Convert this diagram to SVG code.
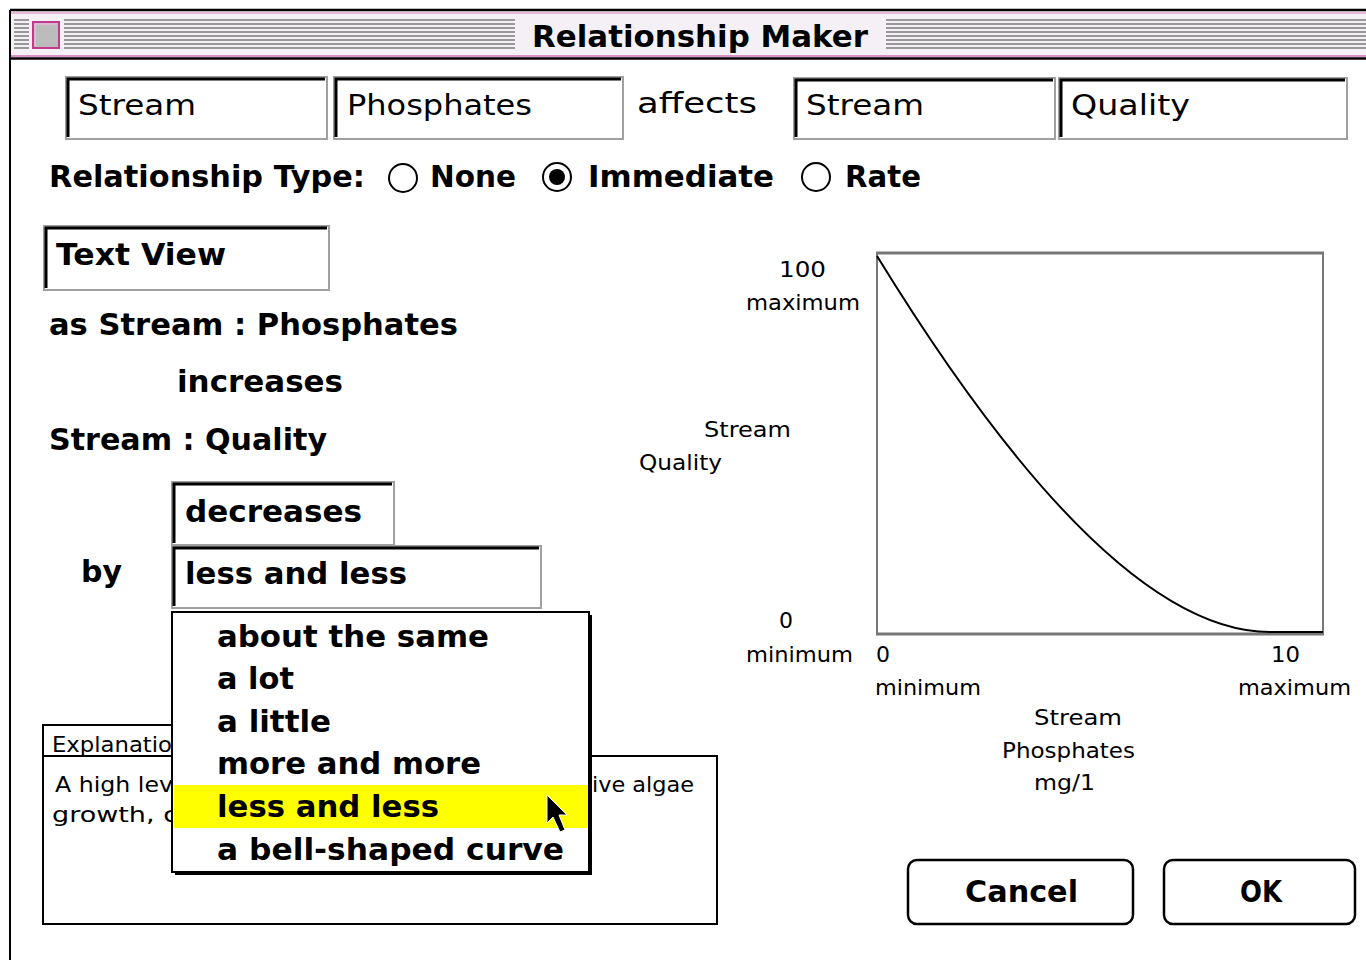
<svg xmlns="http://www.w3.org/2000/svg" width="1366" height="960" viewBox="0 0 1366 960">
<style>
.b{font-family:"DejaVu Sans","Liberation Sans",sans-serif;font-weight:bold;font-size:30px;fill:#000}
.p{font-family:"DejaVu Sans","Liberation Sans",sans-serif;font-size:28px;fill:#000}
.s{font-family:"DejaVu Sans","Liberation Sans",sans-serif;font-size:21px;fill:#000}
.fld{fill:#fff;stroke:#a0a0a0;stroke-width:2}
.ins{fill:none;stroke:#000;stroke-width:3}
.stripe{stroke:#999;stroke-width:2}
.radio{fill:#fff;stroke:#000;stroke-width:2}
.line{fill:none;stroke:#000;stroke-width:2}
.btn{fill:#fff;stroke:#000;stroke-width:2.5}
</style>
<rect x="0" y="0" width="1366" height="960" fill="#fff"/>
<g id="window">
  <rect x="10" y="10" width="1360" height="48" fill="#f5f0f5"/>
  <line x1="10" y1="10" x2="1366" y2="10" stroke="#000" stroke-width="2.5"/>
  <line x1="10" y1="13" x2="1366" y2="13" stroke="#e0a8d0" stroke-width="1.5"/>
  <line x1="10" y1="56" x2="1366" y2="56" stroke="#d070b0" stroke-width="1.5"/>
  <line x1="10" y1="58.5" x2="1366" y2="58.5" stroke="#000" stroke-width="2.5"/>
  <line x1="10" y1="10" x2="10" y2="960" stroke="#000" stroke-width="2"/>
  <g id="stripes">
    <path class="stripe" d="M14 20H29M14 24H29M14 28H29M14 32H29M14 36H29M14 40H29M14 44H29M14 48H29"/>
    <path class="stripe" d="M64 20H515M64 24H515M64 28H515M64 32H515M64 36H515M64 40H515M64 44H515M64 48H515"/>
    <path class="stripe" d="M886 20H1366M886 24H1366M886 28H1366M886 32H1366M886 36H1366M886 40H1366M886 44H1366M886 48H1366"/>
  </g>
  <g id="closebox">
    <rect x="33" y="22" width="26" height="26" fill="#bcbcbc" stroke="#c23a8c" stroke-width="2"/>
    <path d="M35 46V24H57" fill="none" stroke="#e8b8d8" stroke-width="1.5"/>
  </g>
  <text class="b" x="532" y="47" textLength="336" lengthAdjust="spacingAndGlyphs">Relationship Maker</text>
</g>
<g id="field-from-object">
  <rect class="fld" x="66" y="77" width="261" height="62"/>
  <path class="ins" d="M68 137V79H325"/>
  <text class="p" x="78" y="115" textLength="118" lengthAdjust="spacingAndGlyphs">Stream</text>
</g>
<g id="field-from-var">
  <rect class="fld" x="334" y="77" width="289" height="62"/>
  <path class="ins" d="M336 137V79H621"/>
  <text class="p" x="347" y="115" textLength="185" lengthAdjust="spacingAndGlyphs">Phosphates</text>
</g>
<text id="affects" class="p" x="637" y="113" textLength="120" lengthAdjust="spacingAndGlyphs">affects</text>
<g id="field-to-object">
  <rect class="fld" x="794" y="78" width="261" height="61"/>
  <path class="ins" d="M796 137V80H1053"/>
  <text class="p" x="806" y="115" textLength="118" lengthAdjust="spacingAndGlyphs">Stream</text>
</g>
<g id="field-to-var">
  <rect class="fld" x="1059" y="78" width="288" height="61"/>
  <path class="ins" d="M1061 137V80H1345"/>
  <text class="p" x="1071" y="115" textLength="119" lengthAdjust="spacingAndGlyphs">Quality</text>
</g>
<g id="relationship-type">
  <text class="b" x="49" y="187" textLength="316" lengthAdjust="spacingAndGlyphs">Relationship Type:</text>
  <circle class="radio" cx="403" cy="178" r="14"/>
  <text class="b" x="430" y="187" textLength="86" lengthAdjust="spacingAndGlyphs">None</text>
  <circle class="radio" cx="557" cy="177" r="14"/>
  <circle cx="557" cy="177" r="8" fill="#000"/>
  <text class="b" x="588" y="187" textLength="186" lengthAdjust="spacingAndGlyphs">Immediate</text>
  <circle class="radio" cx="816" cy="177" r="14"/>
  <text class="b" x="845" y="187" textLength="76" lengthAdjust="spacingAndGlyphs">Rate</text>
</g>
<g id="text-view">
  <rect class="fld" x="44" y="226" width="285" height="64"/>
  <path class="ins" d="M46 288V228H327"/>
  <text class="b" x="56" y="265" textLength="170" lengthAdjust="spacingAndGlyphs">Text View</text>
</g>
<g id="sentence">
  <text class="b" x="49" y="335" textLength="409" lengthAdjust="spacingAndGlyphs">as Stream : Phosphates</text>
  <text class="b" x="177" y="392" textLength="166" lengthAdjust="spacingAndGlyphs">increases</text>
  <text class="b" x="49" y="450" textLength="278" lengthAdjust="spacingAndGlyphs">Stream : Quality</text>
  <text class="b" x="81" y="582" textLength="41" lengthAdjust="spacingAndGlyphs">by</text>
</g>
<g id="direction-field">
  <rect class="fld" x="172" y="482" width="222" height="63"/>
  <path class="ins" d="M174 543V484H392"/>
  <text class="b" x="185" y="522" textLength="177" lengthAdjust="spacingAndGlyphs">decreases</text>
</g>
<g id="amount-field">
  <rect class="fld" x="172" y="546" width="369" height="62"/>
  <path class="ins" d="M174 606V548H539"/>
  <text class="b" x="185" y="584" textLength="222" lengthAdjust="spacingAndGlyphs">less and less</text>
</g>
<g id="explanation">
  <path class="line" d="M43 924V725H250"/>
  <rect x="43" y="756" width="674" height="168" class="line"/>
  <text class="s" x="52" y="752" textLength="120" lengthAdjust="spacingAndGlyphs">Explanatio</text>
  <text class="s" x="55" y="792" textLength="118" lengthAdjust="spacingAndGlyphs">A high lev</text>
  <text class="s" x="52" y="822" textLength="126" lengthAdjust="spacingAndGlyphs">growth, c</text>
  <text class="s" x="592" y="792" textLength="102" lengthAdjust="spacingAndGlyphs">ive algae</text>
</g>
<g id="menu">
  <rect x="175" y="615" width="417" height="260" fill="#000"/>
  <rect x="172" y="612" width="417" height="260" fill="#fff" stroke="#000" stroke-width="2"/>
  <rect x="174" y="785" width="414" height="43" fill="#ffff00"/>
  <text class="b" x="217" y="647" textLength="272" lengthAdjust="spacingAndGlyphs">about the same</text>
  <text class="b" x="217" y="689" textLength="77" lengthAdjust="spacingAndGlyphs">a lot</text>
  <text class="b" x="217" y="732" textLength="114" lengthAdjust="spacingAndGlyphs">a little</text>
  <text class="b" x="217" y="774" textLength="264" lengthAdjust="spacingAndGlyphs">more and more</text>
  <text class="b" x="217" y="817" textLength="222" lengthAdjust="spacingAndGlyphs">less and less</text>
  <text class="b" x="217" y="860" textLength="347" lengthAdjust="spacingAndGlyphs">a bell-shaped curve</text>
  <path d="M547 795V823L553 817L560 832L565 830L559 815H567Z" fill="#000" stroke="#fff" stroke-width="1"/>
</g>
<g id="graph">
  <line x1="876" y1="253" x2="1324" y2="253" stroke="#777" stroke-width="3"/>
  <line x1="876" y1="634" x2="1324" y2="634" stroke="#777" stroke-width="3"/>
  <line x1="877" y1="253" x2="877" y2="634" stroke="#777" stroke-width="2"/>
  <line x1="1323" y1="253" x2="1323" y2="634" stroke="#777" stroke-width="2"/>
  <path class="line" d="M877 256Q1108 632 1270 632H1323"/>
  <text class="s" x="779" y="277" textLength="47" lengthAdjust="spacingAndGlyphs">100</text>
  <text class="s" x="746" y="310" textLength="114" lengthAdjust="spacingAndGlyphs">maximum</text>
  <text class="s" x="704" y="437" textLength="87" lengthAdjust="spacingAndGlyphs">Stream</text>
  <text class="s" x="639" y="470" textLength="83" lengthAdjust="spacingAndGlyphs">Quality</text>
  <text class="s" x="779" y="628" textLength="14" lengthAdjust="spacingAndGlyphs">0</text>
  <text class="s" x="746" y="662" textLength="107" lengthAdjust="spacingAndGlyphs">minimum</text>
  <text class="s" x="876" y="662" textLength="14" lengthAdjust="spacingAndGlyphs">0</text>
  <text class="s" x="875" y="695" textLength="106" lengthAdjust="spacingAndGlyphs">minimum</text>
  <text class="s" x="1271" y="662" textLength="29" lengthAdjust="spacingAndGlyphs">10</text>
  <text class="s" x="1238" y="695" textLength="113" lengthAdjust="spacingAndGlyphs">maximum</text>
  <text class="s" x="1034" y="725" textLength="88" lengthAdjust="spacingAndGlyphs">Stream</text>
  <text class="s" x="1002" y="758" textLength="133" lengthAdjust="spacingAndGlyphs">Phosphates</text>
  <text class="s" x="1034" y="790" textLength="61" lengthAdjust="spacingAndGlyphs">mg/1</text>
</g>
<g id="cancel-button">
  <rect class="btn" x="908" y="860" width="225" height="64" rx="9"/>
  <text class="b" x="965" y="902" textLength="113" lengthAdjust="spacingAndGlyphs">Cancel</text>
</g>
<g id="ok-button">
  <rect class="btn" x="1164" y="860" width="191" height="64" rx="9"/>
  <text class="b" x="1240" y="902" textLength="42" lengthAdjust="spacingAndGlyphs">OK</text>
</g>
</svg>
